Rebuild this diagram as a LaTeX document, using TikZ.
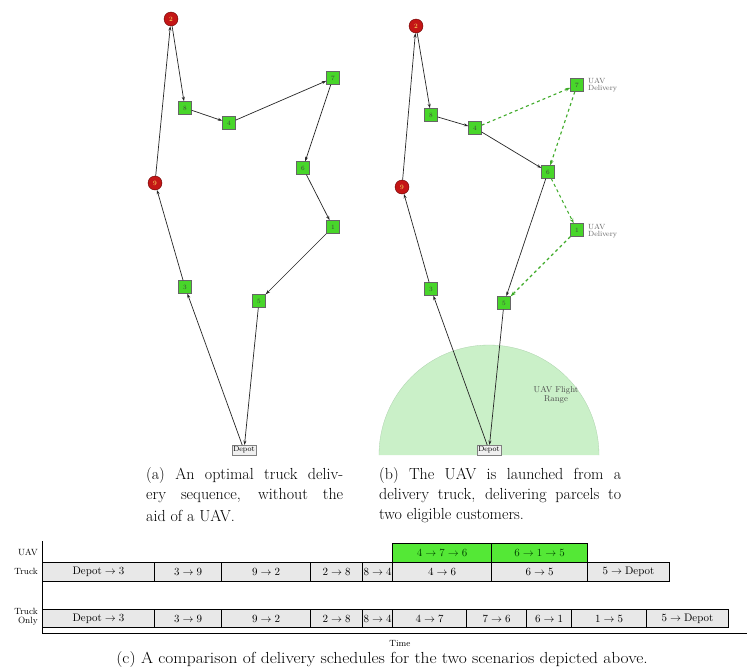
\documentclass[tikz,border=0pt]{standalone}
\usetikzlibrary{arrows.meta}
\definecolor{custgreen}{RGB}{72,214,42}
\definecolor{custred}{RGB}{196,22,22}
\definecolor{uavline}{RGB}{62,170,40}
\definecolor{rangefill}{RGB}{202,240,200}
\definecolor{barfill}{RGB}{232,232,232}
\definecolor{bargreen}{RGB}{84,232,54}
\newcommand{\gbar}[7]{\node[#1, minimum width={#4-#3}, minimum height={#6-#5}, anchor=north west] (#2) at (#3,#5) {$#7$};}
\begin{document}
\begin{tikzpicture}[x=1pt,y=-1pt,
  cust/.style={draw=black!60, fill=custgreen, minimum size=13pt, inner sep=0pt, text=black!75, font=\fontsize{6.5}{7}\selectfont},
  far/.style={circle, draw=red!40!black, fill=custred, minimum size=14pt, inner sep=0pt, text=yellow!60!white, font=\fontsize{6.5}{7}\selectfont},
  depot/.style={draw=gray, fill=gray!12, inner sep=1.5pt, font=\fontsize{7.5}{8}\selectfont},
  route/.style={-{Stealth[length=4.5pt,width=3pt]}, line width=0.7pt, black!85},
  uav/.style={-{Stealth[length=5pt,width=3.5pt]}, line width=1.1pt, dashed, uavline},
  uavlab/.style={anchor=west, align=left, inner sep=0pt, text=black!60, font=\fontsize{7.5}{7}\selectfont},
  bar/.style={draw, line width=1pt, fill=barfill, inner sep=0pt, font=\fontsize{11}{11}\selectfont},
  gbar/.style={bar, fill=bargreen, text=green!25!black},
  rowlab/.style={anchor=east, align=right, inner sep=0pt, font=\fontsize{9}{9.5}\selectfont},
  captext/.style={anchor=west, inner sep=0pt, font=\fontsize{16}{19}\selectfont}
]
\useasboundingbox (0,0) rectangle (747,667);
\fill[white] (0,0) rectangle (747,667);

% ---------- panel (a)
\node[far] (a2) at (171,19) {2};
\node[far] (a9) at (155,183) {9};
\node[cust] (a8) at (185,108) {8};
\node[cust] (a4) at (229,123) {4};
\node[cust] (a7) at (333,78) {7};
\node[cust] (a6) at (303,168) {6};
\node[cust] (a1) at (333,227) {1};
\node[cust] (a5) at (259,301) {5};
\node[cust] (a3) at (185,287) {3};
\node[depot] (ad) at (244,450) {Depot};
\draw[route] (ad) -- (a3);
\draw[route] (a3) -- (a9);
\draw[route] (a9) -- (a2);
\draw[route] (a2) -- (a8);
\draw[route] (a8) -- (a4);
\draw[route] (a4) -- (a7);
\draw[route] (a7) -- (a6);
\draw[route] (a6) -- (a1);
\draw[route] (a1) -- (a5);
\draw[route] (a5) -- (ad);

% ---------- panel (b)
\fill[rangefill] (379,455) arc[start angle=180, end angle=0, radius=110pt] -- cycle;
\draw[green!30!gray!50, line width=0.3pt] (379,455) arc[start angle=180, end angle=0, radius=110pt];
\node[align=center, inner sep=0pt, text=black!70, font=\fontsize{8.5}{9}\selectfont] (rng) at (556,395) {UAV Flight\\Range};
\node[far] (b2) at (416,26) {2};
\node[far] (b9) at (402,187) {9};
\node[cust] (b8) at (431,115) {8};
\node[cust] (b4) at (475,128) {4};
\node[cust] (b7) at (577,85) {7};
\node[cust] (b6) at (548,172) {6};
\node[cust] (b1) at (577,230) {1};
\node[cust] (b5) at (504,303) {5};
\node[cust] (b3) at (431,289) {3};
\node[depot] (bd) at (489,450) {Depot};
\node[uavlab] (l7) at (588,85) {UAV\\Delivery};
\node[uavlab] (l1) at (588,231) {UAV\\Delivery};
\draw[route] (bd) -- (b3);
\draw[route] (b3) -- (b9);
\draw[route] (b9) -- (b2);
\draw[route] (b2) -- (b8);
\draw[route] (b8) -- (b4);
\draw[route] (b4) -- (b6);
\draw[route] (b6) -- (b5);
\draw[route] (b5) -- (bd);
\draw[uav] (b4) -- (b7);
\draw[uav] (b7) -- (b6);
\draw[uav] (b6) -- (b1);
\draw[uav] (b1) -- (b5);

% ---------- captions (a) and (b)
\node[captext] (ca1) at (146,475) {\makebox[197pt][s]{(a) An optimal truck deliv-}};
\node[captext] (ca2) at (146,495.5) {\makebox[197pt][s]{ery sequence, without the}};
\node[captext] (ca3) at (146,516) {aid of a UAV.};
\node[captext] (cb1) at (379,475) {\makebox[242pt][s]{(b) The UAV is launched from a}};
\node[captext] (cb2) at (379,495.5) {\makebox[242pt][s]{delivery truck, delivering parcels to}};
\node[captext] (cb3) at (379,516) {two eligible customers.};

% ---------- schedule (c)
\draw[line width=0.8pt] (42,541) -- (42,633) -- (747,633);
\node[rowlab] (ruav) at (38,552) {UAV};
\node[rowlab] (rtruck) at (38,571) {Truck};
\node[rowlab] (ronly) at (38,617) {Truck\\Only};

\gbar{gbar}{u1}{392}{491}{543}{562}{4\rightarrow 7\rightarrow 6}
\gbar{gbar}{u2}{491}{587}{543}{562}{6\rightarrow 1\rightarrow 5}

\gbar{bar}{t1}{42}{154}{562}{581}{\mathrm{Depot}\rightarrow 3}
\gbar{bar}{t2}{154}{221}{562}{581}{3\rightarrow 9}
\gbar{bar}{t3}{221}{310}{562}{581}{9\rightarrow 2}
\gbar{bar}{t4}{310}{362}{562}{581}{2\rightarrow 8}
\gbar{bar}{t5}{362}{392}{562}{581}{8\rightarrow 4}
\gbar{bar}{t6}{392}{491}{562}{581}{4\rightarrow 6}
\gbar{bar}{t7}{491}{587}{562}{581}{6\rightarrow 5}
\gbar{bar}{t8}{587}{669}{562}{581}{5\rightarrow \mathrm{Depot}}

\gbar{bar}{o1}{42}{154}{609}{627}{\mathrm{Depot}\rightarrow 3}
\gbar{bar}{o2}{154}{221}{609}{627}{3\rightarrow 9}
\gbar{bar}{o3}{221}{310}{609}{627}{9\rightarrow 2}
\gbar{bar}{o4}{310}{362}{609}{627}{2\rightarrow 8}
\gbar{bar}{o5}{362}{392}{609}{627}{8\rightarrow 4}
\gbar{bar}{o6}{392}{466}{609}{627}{4\rightarrow 7}
\gbar{bar}{o7}{466}{526}{609}{627}{7\rightarrow 6}
\gbar{bar}{o8}{526}{571}{609}{627}{6\rightarrow 1}
\gbar{bar}{o9}{571}{646}{609}{627}{1\rightarrow 5}
\gbar{bar}{o10}{646}{728}{609}{627}{5\rightarrow \mathrm{Depot}}

\node[inner sep=0pt, font=\fontsize{9}{9}\selectfont] (time) at (400,643) {Time};
\node[inner sep=0pt, font=\fontsize{16}{19}\selectfont] (cc) at (382,659) {\scalebox{1.09}[1]{(c) A comparison of delivery schedules for the two scenarios depicted above.}};
\end{tikzpicture}
\end{document}
